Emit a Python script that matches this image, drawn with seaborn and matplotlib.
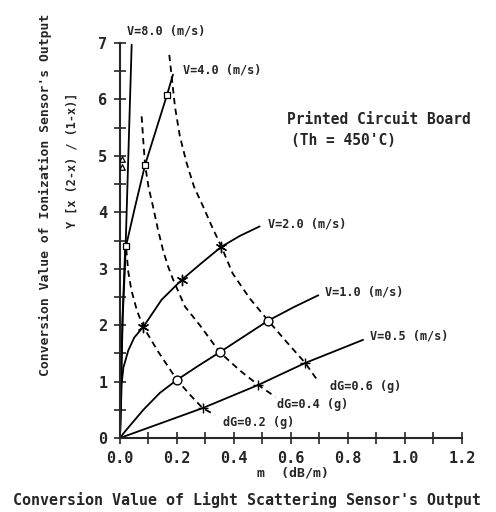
import matplotlib
matplotlib.use("Agg")
import pandas as pd
import matplotlib.pyplot as plt
from matplotlib.ticker import MultipleLocator
import seaborn as sns

# solid curves: constant air velocity V (m/s)
v05_x = [0.0, 0.29, 0.485, 0.65, 0.853]
v05_y = [0.0, 0.53, 0.94, 1.33, 1.74]
v1_x = [0.0, 0.015, 0.035, 0.082, 0.14, 0.2, 0.275, 0.35, 0.435, 0.52, 0.61, 0.696]
v1_y = [0.0, 0.1, 0.22, 0.5, 0.8, 1.03, 1.28, 1.52, 1.8, 2.08, 2.32, 2.53]
v2_x = [0.0, 0.006, 0.012, 0.029, 0.05, 0.082, 0.146, 0.216, 0.286, 0.356, 0.42, 0.49]
v2_y = [0.0, 0.97, 1.25, 1.55, 1.78, 1.97, 2.45, 2.8, 3.1, 3.39, 3.58, 3.75]
v4_x = [0.0, 0.008, 0.018, 0.053, 0.088, 0.165, 0.186]
v4_y = [0.0, 2.0, 3.33, 4.1, 4.84, 6.08, 6.44]
v8_x = [0.0, 0.004, 0.01, 0.018, 0.041]
v8_y = [0.0, 1.0, 2.2, 3.1, 6.97]

# measured points on each V curve
v05_mx = [0.29, 0.485, 0.65]
v05_my = [0.53, 0.94, 1.33]
v1_mx = [0.2, 0.35, 0.52]
v1_my = [1.03, 1.52, 2.08]
v2_mx = [0.082, 0.216, 0.356]
v2_my = [1.97, 2.8, 3.39]
v4_mx = [0.022, 0.088, 0.165]
v4_my = [3.4, 4.84, 6.08]
v8_mx = [0.006, 0.006]
v8_my = [4.95, 4.8]

# dashed curves: constant weight loss dG (g)
dg02_x = [0.022, 0.029, 0.04, 0.06, 0.082, 0.134, 0.2, 0.245, 0.29, 0.333]
dg02_y = [3.35, 2.95, 2.62, 2.25, 1.97, 1.53, 1.03, 0.77, 0.53, 0.41]
dg04_x = [0.076, 0.082, 0.088, 0.1, 0.116, 0.133, 0.151, 0.168, 0.187, 0.228,
          0.28, 0.35, 0.42, 0.485, 0.545]
dg04_y = [5.7, 5.25, 4.84, 4.45, 4.1, 3.7, 3.33, 3.05, 2.8, 2.33,
          2.0, 1.52, 1.2, 0.94, 0.73]
dg06_x = [0.173, 0.193, 0.21, 0.234, 0.26, 0.292, 0.325, 0.356, 0.395, 0.43,
          0.456, 0.52, 0.585, 0.65, 0.696]
dg06_y = [6.79, 5.87, 5.35, 4.87, 4.45, 4.1, 3.72, 3.39, 2.92, 2.66,
          2.47, 2.08, 1.7, 1.33, 1.0]

v_labels = ["V=0.5 (m/s)", "V=1.0 (m/s)", "V=2.0 (m/s)", "V=4.0 (m/s)", "V=8.0 (m/s)"]
dg_labels = ["dG=0.2 (g)", "dG=0.4 (g)", "dG=0.6 (g)"]

sns.set_style("ticks")
plt.rcParams["font.family"] = ["DejaVu Sans Mono", "DejaVu Sans"]
plt.rcParams["font.weight"] = "bold"

fig = plt.figure(figsize=(4.96, 5.12), dpi=100)
ax = fig.add_axes([0.2419, 0.1445, 0.6895, 0.7715])

solid = [(v05_x, v05_y), (v1_x, v1_y), (v2_x, v2_y), (v4_x, v4_y), (v8_x, v8_y)]
for xs, ys in solid:
    sns.lineplot(x=xs, y=ys, sort=False, estimator=None, color="black", lw=1.3, ax=ax)

dashed = [(dg02_x, dg02_y), (dg04_x, dg04_y), (dg06_x, dg06_y)]
for xs, ys in dashed:
    sns.lineplot(x=xs, y=ys, sort=False, estimator=None, color="black", lw=1.3,
                 ls=(0, (3.5, 2.5)), ax=ax)

# markers
sns.scatterplot(x=v05_mx, y=v05_my, marker="+", s=45, color="black", linewidth=1.0, ax=ax)
sns.scatterplot(x=v1_mx, y=v1_my, marker="o", s=40, facecolor="white", edgecolor="black",
                linewidth=1.0, ax=ax, zorder=3)
sns.scatterplot(x=v2_mx, y=v2_my, marker=(6, 2, 0), s=55, color="black", linewidth=1.0, ax=ax)
sns.scatterplot(x=v4_mx, y=v4_my, marker="s", s=16, facecolor="white", edgecolor="black",
                linewidth=0.9, ax=ax, zorder=3)
sns.scatterplot(x=v8_mx, y=v8_my, marker="^", s=16, facecolor="white", edgecolor="black",
                linewidth=0.9, ax=ax, zorder=3)

ax.set_xlim(0, 1.2)
ax.set_ylim(0, 7)
ax.xaxis.set_major_locator(MultipleLocator(0.2))
ax.xaxis.set_minor_locator(MultipleLocator(0.1))
ax.yaxis.set_major_locator(MultipleLocator(1))
ax.yaxis.set_minor_locator(MultipleLocator(0.5))
ax.set_xticklabels([f"{v:.1f}" for v in ax.get_xticks()])
ax.tick_params(which="both", direction="inout", length=8, width=1.2, labelsize=11)
ax.tick_params(axis="x", pad=5)
ax.tick_params(axis="y", pad=5)
for s in ["top", "right"]:
    ax.spines[s].set_visible(False)
for s in ["left", "bottom"]:
    ax.spines[s].set_linewidth(1.5)

# curve labels
kw = dict(fontsize=8.6, ha="left", va="center", clip_on=False)
ax.text(0.877, 1.81, v_labels[0], **kw)
ax.text(0.72, 2.58, v_labels[1], **kw)
ax.text(0.52, 3.8, v_labels[2], **kw)
ax.text(0.22, 6.52, v_labels[3], **kw)
ax.text(0.025, 7.22, v_labels[4], **kw)
ax.text(0.362, 0.27, dg_labels[0], **kw)
ax.text(0.55, 0.6, dg_labels[1], **kw)
ax.text(0.737, 0.92, dg_labels[2], **kw)

ax.text(0.586, 5.64, "Printed Circuit Board", fontsize=10.5, ha="left", va="center")
ax.text(0.6, 5.28, "(Th = 450'C)", fontsize=10.5, ha="left", va="center")

fig.text(293 / 496, 1 - 473 / 512, "m  (dB/m)", fontsize=9.5, ha="center", va="center")
fig.text(247 / 496, 1 - 500 / 512, "Conversion Value of Light Scattering Sensor's Output",
         fontsize=10.8, ha="center", va="center")
fig.text(45 / 496, 1 - 195 / 512, "Conversion Value of Ionization Sensor's Output",
         fontsize=9.4, rotation=90, ha="center", va="center")
fig.text(72 / 496, 1 - 160 / 512, "Y [x (2-x) / (1-x)]",
         fontsize=8.5, rotation=90, ha="center", va="center")

fig.savefig("out.png", dpi=100)
